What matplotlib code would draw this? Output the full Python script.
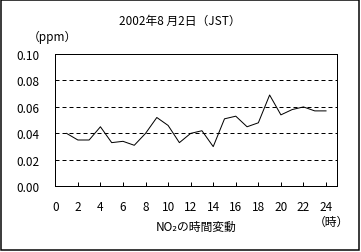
import matplotlib
matplotlib.use('Agg')
import matplotlib.pyplot as plt
from matplotlib.patches import Rectangle

plt.rcParams['font.family'] = ['Noto Sans CJK JP', 'DejaVu Sans']

# 時刻と NO2 濃度 (ppm)
hours = list(range(1, 25))
no2 = [0.040, 0.035, 0.035, 0.045, 0.033, 0.034, 0.031, 0.040,
       0.052, 0.046, 0.033, 0.040, 0.042, 0.030, 0.051, 0.053,
       0.045, 0.048, 0.069, 0.054, 0.058, 0.060, 0.057, 0.057]
x_ticks = list(range(0, 25, 2))
y_ticks = [0.00, 0.02, 0.04, 0.06, 0.08, 0.10]

W, H = 361, 253
fig = plt.figure(figsize=(W / 100, H / 100), dpi=100)
ax = fig.add_axes([55.3 / W, 1 - 187.3 / H, 282 / W, 132.3 / H])

px = 0.72  # 1 px in points
ax.plot(hours, no2, color='black', lw=1.0 * px)

ax.set_xlim(0, 25)
ax.set_ylim(0, 0.10)
ax.set_xticks(x_ticks)
ax.set_yticks(y_ticks)
ax.set_yticklabels([f'{v:.2f}' for v in y_ticks])

for v in y_ticks[1:-1]:
    ax.axhline(v, color='black', lw=1.0 * px, ls=(0, (4, 3)))

for s in ax.spines.values():
    s.set_linewidth(1.0 * px)
ax.tick_params(axis='x', direction='in', length=4 * px, width=1.0 * px,
               labelsize=8.5, pad=10)
ax.tick_params(axis='y', length=0, labelsize=8.5, pad=11.5)

fig.text(180 / W, 1 - 21 / H, '2002年8 月2日（JST）', ha='center', va='center', fontsize=8.5)
fig.text(52 / W, 1 - 37 / H, '（ppm）', ha='center', va='center', fontsize=8.5)
fig.text(331 / W, 1 - 222.5 / H, '（時）', ha='center', va='center', fontsize=8.5)
fig.text(196 / W, 1 - 227 / H, 'NO₂の時間変動', ha='center', va='center', fontsize=8.5)

# 外枠
fig.patches.append(Rectangle((1 / W, 1 - 251 / H), 358 / W, 250 / H,
                             transform=fig.transFigure, fill=False,
                             edgecolor='black', lw=1.5 * px))

fig.savefig('out.png', dpi=100)
